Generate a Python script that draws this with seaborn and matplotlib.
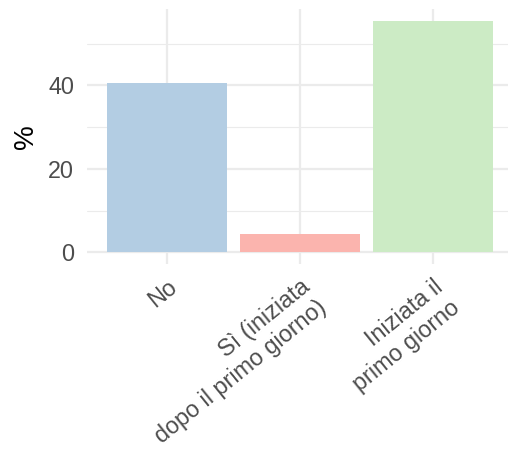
import seaborn as sns
import matplotlib.pyplot as plt
from matplotlib.ticker import MultipleLocator
import pandas as pd

categories = ["No", "Sì (iniziata\ndopo il primo giorno)", "Iniziata il\nprimo giorno"]
values = [40.6, 4.5, 55.4]
colors = ["#B3CDE3", "#FBB4AE", "#CCEBC5"]

df = pd.DataFrame({"cat": categories, "pct": values})

sns.set_theme(style="white")
plt.rcParams['font.family'] = ['Liberation Sans', 'DejaVu Sans']

fig = plt.figure(figsize=(5.08, 4.49), dpi=100)
ax = fig.add_axes([0.171, 0.412, 0.839, 0.568])

sns.barplot(data=df, x="cat", y="pct", hue="cat", palette=colors,
            width=0.9, legend=False, ax=ax, zorder=3, saturation=1, linewidth=0)

ax.set_xlim(-0.6, 2.6)
ax.set_ylim(-2.78, 58.3)
ax.yaxis.set_major_locator(MultipleLocator(20))
ax.yaxis.set_minor_locator(MultipleLocator(10))
ax.grid(which="major", color="#EBEBEB", lw=1.6, zorder=0)
ax.grid(which="minor", axis="y", color="#EBEBEB", lw=0.8, zorder=0)
ax.set_axisbelow(True)
for s in ax.spines.values():
    s.set_visible(False)

ax.set_xlabel("")
ax.set_ylabel("%", fontsize=20, color="black", labelpad=7)
ax.tick_params(axis="y", labelsize=16.8, labelcolor="#4D4D4D", length=0, pad=9)
ax.tick_params(axis="x", labelsize=16.8, labelcolor="#4D4D4D", length=0, pad=8)
for lab in ax.get_xticklabels():
    lab.set_rotation(39)
    lab.set_ha("right")
    lab.set_va("top")
    lab.set_rotation_mode("anchor")
    lab.set_multialignment("right")
    lab.set_linespacing(1.2)

fig.savefig("out.png", dpi=100)
